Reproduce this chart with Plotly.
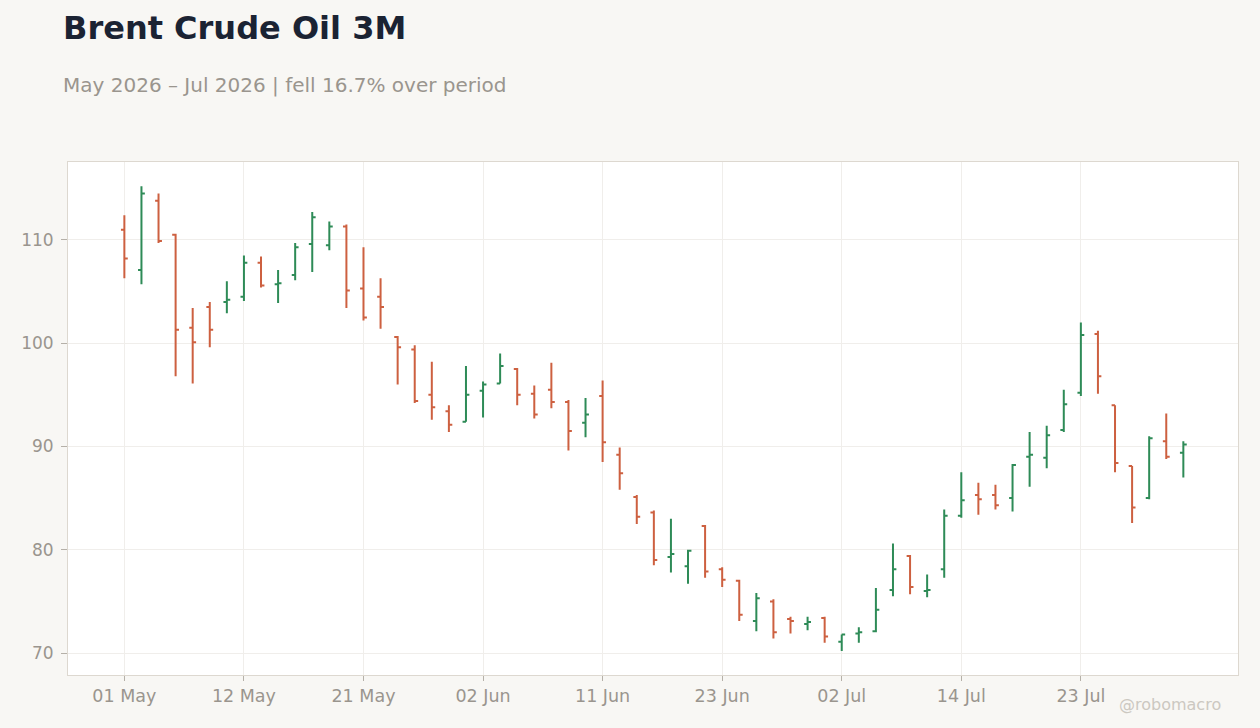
"""
Brent Crude Oil 3M - OHLC chart recreated with plotly
"""

import pandas as pd
import plotly.graph_objects as go

# trading days May-Jul 2026 (US market holidays skipped)
holidays = ["2026-05-25", "2026-06-19", "2026-07-03"]
days = [d for d in pd.bdate_range("2026-05-01", "2026-07-31") if d.strftime("%Y-%m-%d") not in holidays]
dates = [d.strftime("%Y-%m-%d") for d in days]

open_px = [111.0, 107.1, 113.8, 110.5, 101.5, 103.5, 104.0, 104.5, 107.8, 105.7,
           106.6, 109.6, 109.5, 111.3, 105.3, 104.5, 100.6, 99.4, 95.0, 93.4,
           92.4, 95.4, 96.1, 97.5, 95.1, 95.5, 94.3, 92.3, 94.9, 89.2,
           85.1, 83.6, 79.3, 78.4, 82.3, 78.1, 77.0, 73.1, 75.0, 73.3,
           72.8, 73.4, 71.1, 71.9, 72.1, 76.1, 79.4, 76.0, 78.1, 83.3,
           85.3, 85.3, 85.0, 89.0, 88.9, 91.6, 95.2, 100.9, 94.0, 88.1,
           85.0, 90.5, 89.4]
high_px = [112.4, 115.2, 114.5, 110.6, 103.4, 104.0, 106.0, 108.5, 108.4, 107.1,
           109.7, 112.7, 111.8, 111.5, 109.3, 106.3, 100.7, 99.8, 98.2, 94.0,
           97.8, 96.3, 99.0, 97.6, 95.9, 98.1, 94.5, 94.7, 96.4, 89.9,
           85.3, 83.8, 83.0, 80.0, 82.4, 78.3, 77.1, 75.8, 75.2, 73.5,
           73.5, 73.5, 71.8, 72.5, 76.3, 80.6, 79.5, 77.6, 83.9, 87.5,
           86.5, 86.3, 88.3, 91.4, 92.0, 95.5, 102.0, 101.2, 94.0, 88.1,
           91.0, 93.2, 90.5]
low_px = [106.3, 105.7, 109.7, 96.8, 96.1, 99.6, 102.9, 104.1, 105.4, 103.9,
          106.1, 106.9, 109.0, 103.4, 102.2, 101.4, 96.0, 94.2, 92.6, 91.4,
          92.4, 92.8, 96.1, 94.0, 92.7, 93.7, 89.6, 90.9, 88.5, 85.8,
          82.5, 78.5, 77.8, 76.7, 77.3, 76.4, 73.1, 72.1, 71.4, 71.9,
          72.2, 71.0, 70.2, 71.0, 72.0, 75.5, 75.7, 75.4, 77.3, 83.1,
          83.4, 83.9, 83.7, 86.1, 87.9, 91.4, 94.9, 95.1, 87.5, 82.6,
          84.9, 88.8, 87.0]
close_px = [108.2, 114.5, 109.9, 101.3, 100.1, 101.3, 104.2, 107.8, 105.6, 105.8,
            109.3, 112.2, 111.3, 105.1, 102.5, 103.5, 99.6, 94.4, 93.8, 92.1,
            95.0, 96.0, 97.8, 95.0, 93.1, 94.3, 91.5, 93.1, 90.4, 87.4,
            83.2, 79.0, 79.6, 79.9, 77.9, 77.1, 73.7, 75.3, 72.0, 73.1,
            73.0, 71.6, 71.8, 72.0, 74.2, 78.1, 76.4, 76.1, 83.3, 84.8,
            84.9, 84.3, 88.2, 89.2, 91.1, 94.1, 100.8, 96.8, 88.4, 84.1,
            90.8, 89.0, 90.2]

tick_idx = [0, 7, 14, 21, 28, 35, 42, 49, 56]
tick_vals = [dates[i] for i in tick_idx]
tick_text = [days[i].strftime("%d %b") for i in tick_idx]

UP = "#2E8B57"
DOWN = "#CD6040"
GREY = "#9A958E"


def draw_chart():

    fig = go.Figure(go.Ohlc(
        x=dates, open=open_px, high=high_px, low=low_px, close=close_px,
        increasing=dict(line=dict(color=UP, width=2)),
        decreasing=dict(line=dict(color=DOWN, width=2)),
        tickwidth=0.2,
        showlegend=False,
    ))

    fig.update_layout(
        width=1260, height=728,
        paper_bgcolor="#F8F7F4",
        plot_bgcolor="#FFFFFF",
        margin=dict(l=68, r=22, t=162, b=53),
        font=dict(family="DejaVu Sans", color=GREY, size=17),
        title=dict(text="<b>Brent Crude Oil 3M</b>", xref="container", x=63 / 1260, xanchor="left",
                   yref="container", y=1 - 28 / 728, yanchor="middle",
                   font=dict(size=32, color="#1B2333", family="DejaVu Sans")),
        annotations=[
            dict(text="May 2026 – Jul 2026 | fell 16.7% over period", xref="paper", yref="paper",
                 x=-7 / 1170, y=(675 - 85) / 513, xanchor="left", yanchor="middle",
                 showarrow=False, font=dict(size=20, color=GREY)),
            dict(text="@robomacro", xref="paper", yref="paper",
                 x=(1170 - 68) / 1170, y=(675 - 705) / 513, xanchor="center", yanchor="middle",
                 showarrow=False, font=dict(size=16, color="#CCC8C1")),
        ],
    )
    fig.update_xaxes(
        type="category", rangeslider_visible=False,
        range=[-3.3, 65.2],
        tickvals=tick_vals, ticktext=tick_text,
        tickfont=dict(size=17.5),
        ticks="outside", ticklen=5, tickcolor="#B5B0A8",
        showgrid=True, gridcolor="#F0EEEB",
        showline=True, linecolor="#DDD8D0", mirror=True,
    )
    fig.update_yaxes(
        range=[67.87, 117.55],
        tickvals=[70, 80, 90, 100, 110],
        ticks="outside", ticklen=6, tickcolor="#B5B0A8",
        ticklabelstandoff=4,
        showgrid=True, gridcolor="#F0EEEB",
        showline=True, linecolor="#DDD8D0", mirror=True,
        zeroline=False,
    )
    # page without the default body margin so the figure starts at the corner
    fig.write_html("out.html", config={"displayModeBar": False},
                   post_script="document.body.style.margin='0';document.body.style.background='#F8F7F4';")


def main():

    draw_chart()


if __name__ == "__main__":
    main()
